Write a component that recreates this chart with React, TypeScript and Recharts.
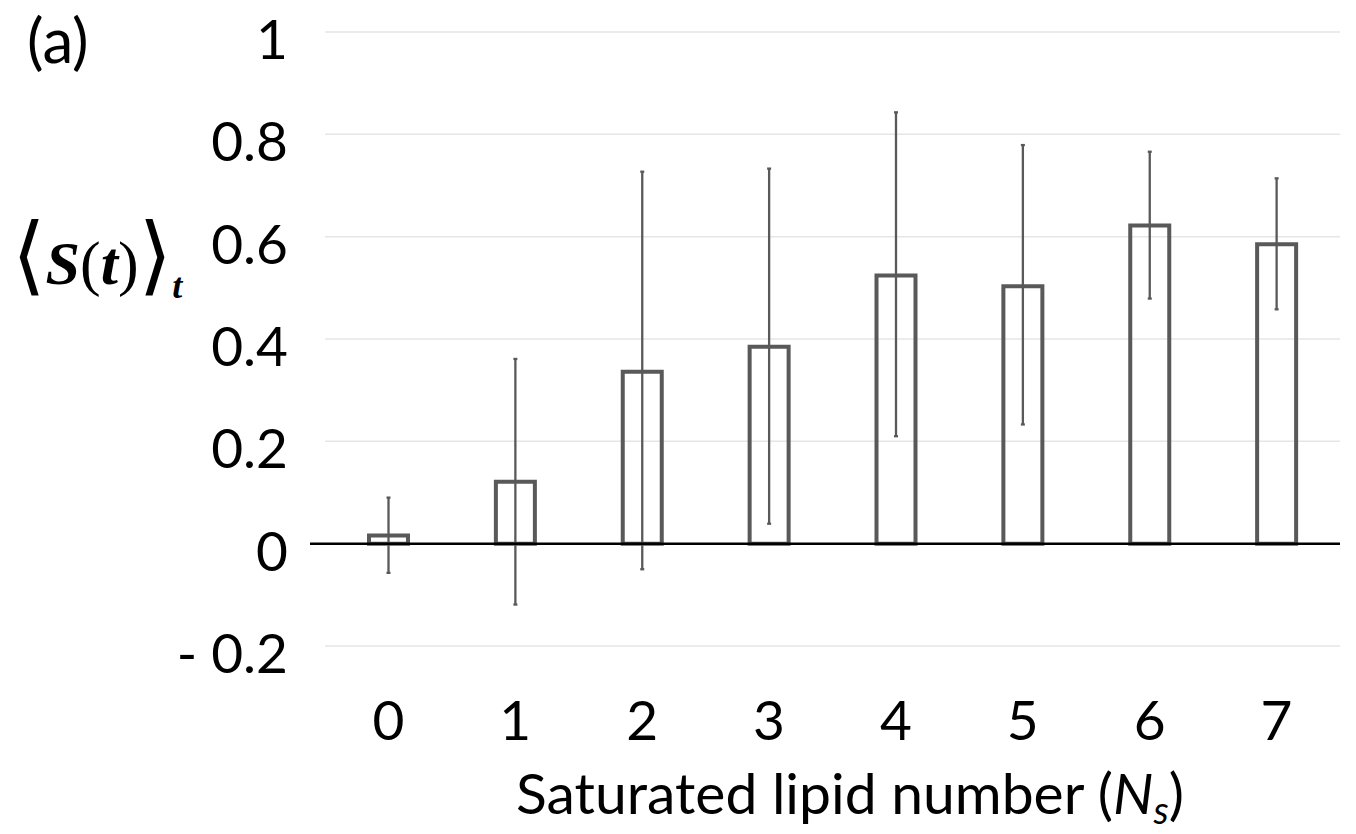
import React from 'react';
import { BarChart, Bar, XAxis, YAxis, CartesianGrid, ErrorBar, ReferenceLine } from 'recharts';

const categories = ['0', '1', '2', '3', '4', '5', '6', '7'];
const meanValues = [0.016, 0.121, 0.336, 0.385, 0.524, 0.503, 0.622, 0.585];
const errorLow = [-0.057, -0.119, -0.05, 0.039, 0.21, 0.233, 0.479, 0.458];
const errorHigh = [0.09, 0.361, 0.727, 0.733, 0.843, 0.779, 0.766, 0.714];
const yTicks = [-0.2, 0, 0.2, 0.4, 0.6, 0.8, 1];

const data = categories.map((c, i) => ({
  ns: c,
  s: meanValues[i],
  err: [meanValues[i] - errorLow[i], errorHigh[i] - meanValues[i]],
}));

const FONT = "Lato, 'Open Sans', sans-serif";
const INK = '#595959';

const fmtY = (v: number) => {
  if (v === 0) return '0';
  if (v < 0) return '- ' + String(Math.abs(v));
  return String(v);
};

const YTick = (props: any) => {
  const { x, y, payload } = props;
  return (
    <text x={x} y={y + 27} textAnchor="end" fontFamily={FONT} fontSize={55} fill="#000">
      {fmtY(payload.value)}
    </text>
  );
};

const XTick = (props: any) => {
  const { x, y, payload } = props;
  return (
    <text x={x} y={y + 86} textAnchor="middle" fontFamily={FONT} fontSize={55} fill="#000">
      {payload.value}
    </text>
  );
};

const ZeroLine = (props: any) => {
  const { x1, y1, x2, y2 } = props;
  return <line x1={x1 - 15} y1={y1} x2={x2} y2={y2} stroke="#000" strokeWidth={2.5} />;
};

export default function App() {
  return (
    <div style={{ position: 'relative', width: 1340, height: 834, marginTop: -8 }}>
      <BarChart
        width={1340}
        height={826}
        data={data}
        margin={{ top: 32, right: 8, left: 0, bottom: 80 }}
      >
        <CartesianGrid horizontal vertical={false} stroke="#e6e6e6" strokeWidth={1.5} />
        <XAxis
          dataKey="ns"
          axisLine={false}
          tickLine={false}
          height={100}
          tick={<XTick />}
          interval={0}
        />
        <YAxis
          type="number"
          domain={[-0.2, 1]}
          ticks={yTicks}
          width={317}
          axisLine={false}
          tickLine={false}
          tickSize={0}
          tickMargin={37}
          tick={<YTick />}
          interval={0}
        />
        <Bar
          dataKey="s"
          barSize={39}
          fill="none"
          stroke={INK}
          strokeWidth={4}
          isAnimationActive={false}
        >
          <ErrorBar dataKey="err" direction="y" width={2} stroke={INK} strokeWidth={2.3} />
        </Bar>
        <ReferenceLine y={0} shape={<ZeroLine />} />
      </BarChart>
      <svg
        width={1340}
        height={834}
        style={{ position: 'absolute', left: 0, top: 0, pointerEvents: 'none' }}
      >
        <text x={19} y={63} fontFamily={FONT} fontSize={62} fill="#000">(a)</text>
        <text x={4} y={284} fontFamily="'Liberation Serif', 'DejaVu Serif', serif" fill="#000">
          <tspan fontSize={86} fontFamily="'DejaVu Serif', serif" fontWeight={300}>⟨</tspan>
          <tspan fontSize={62} fontStyle="italic" fontWeight="bold">S</tspan>
          <tspan fontSize={62}>(</tspan>
          <tspan fontSize={62} fontStyle="italic" fontWeight="bold">t</tspan>
          <tspan fontSize={62}>)</tspan>
          <tspan fontSize={86} fontFamily="'DejaVu Serif', serif" fontWeight={300}>⟩</tspan>
          <tspan fontSize={36} fontStyle="italic" fontWeight="bold" dy={14}>t</tspan>
        </text>
        <text x={842} y={814} textAnchor="middle" fontFamily={FONT} fontSize={57} fill="#000">
          Saturated lipid number (<tspan fontStyle="italic">N</tspan>
          <tspan fontSize={38} fontStyle="italic" dy={10}>s</tspan>
          <tspan dy={-10}>)</tspan>
        </text>
      </svg>
    </div>
  );
}
